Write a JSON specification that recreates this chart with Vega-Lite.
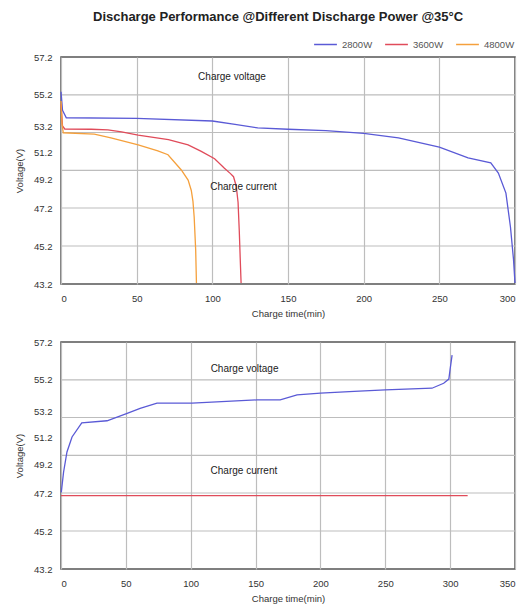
{
  "$schema": "https://vega.github.io/schema/vega-lite/v6.json",
  "padding": {"left": 13, "top": 11, "right": 2, "bottom": 0},
  "title": {"text": "Discharge Performance @Different Discharge Power @35°C", "anchor": "middle", "font": "Liberation Sans", "fontSize": 13, "fontWeight": "bold", "color": "#222", "dx": 12, "offset": 8},
  "config": {
    "font": "Liberation Sans",
    "view": {"stroke": "#555", "strokeWidth": 1.5},
    "axis": {"labelFont": "Liberation Sans", "labelFontSize": 9.5, "labelColor": "#333", "titleFont": "Liberation Sans", "titleFontSize": 9.5, "titleFontWeight": "normal", "titleColor": "#333", "gridColor": "#bdbdbd", "gridWidth": 1.2, "ticks": false, "domain": false, "labelOverlap": false, "tickCount": 30}
  },
  "spacing": 17,
  "vconcat": [
    {
      "width": 454,
      "height": 227,
      "layer": [
        {
          "data": {"values": [
            {"g": 55.2, "t": 0}, {"g": 55.2, "t": 300},
            {"g": 52.7, "t": 0}, {"g": 52.7, "t": 300},
            {"g": 49.84, "t": 0}, {"g": 49.84, "t": 300},
            {"g": 47.2, "t": 0}, {"g": 47.2, "t": 300},
            {"g": 45.2, "t": 0}, {"g": 45.2, "t": 300}
          ]},
          "mark": {"type": "line", "color": "#bdbdbd", "strokeWidth": 1.2},
          "encoding": {
            "x": {"field": "t", "type": "quantitative", "scale": {"domain": [0, 300], "nice": false},
                  "axis": {"values": [0, 50, 100, 150, 200, 250, 300], "title": "Charge time(min)", "grid": true, "labelPadding": 9, "titlePadding": 6}},
            "y": {"field": "g", "type": "quantitative",
                  "scale": {"domain": [43.2, 45.2, 47.2, 49.2, 51.2, 53.2, 55.2, 57.2], "range": [227, 189, 151, 122, 95, 69, 37.8, 0], "nice": false, "zero": false},
                  "axis": {"values": [43.2, 45.2, 47.2, 49.2, 51.2, 53.2, 55.2, 57.2], "format": ".1f", "grid": false, "orient": "left", "title": "Voltage(V)", "labelPadding": 9, "titlePadding": 9}},
            "detail": {"field": "g", "type": "nominal"}
          }
        },
        {
          "data": {"values": [
            {"series": "2800W", "t": 0, "v": 55.36}, {"series": "2800W", "t": 1, "v": 54.2}, {"series": "2800W", "t": 3.5, "v": 53.73},
            {"series": "2800W", "t": 50, "v": 53.69}, {"series": "2800W", "t": 100, "v": 53.52}, {"series": "2800W", "t": 115, "v": 53.3},
            {"series": "2800W", "t": 130, "v": 53.05}, {"series": "2800W", "t": 150, "v": 52.95}, {"series": "2800W", "t": 175, "v": 52.85},
            {"series": "2800W", "t": 200, "v": 52.64}, {"series": "2800W", "t": 223, "v": 52.28}, {"series": "2800W", "t": 250, "v": 51.58},
            {"series": "2800W", "t": 269, "v": 50.76}, {"series": "2800W", "t": 284, "v": 50.39}, {"series": "2800W", "t": 289, "v": 49.64},
            {"series": "2800W", "t": 294, "v": 48.23}, {"series": "2800W", "t": 297, "v": 46.2}, {"series": "2800W", "t": 299, "v": 44.5},
            {"series": "2800W", "t": 300, "v": 43.25},
            {"series": "3600W", "t": 0, "v": 54.6}, {"series": "3600W", "t": 1, "v": 53.2}, {"series": "3600W", "t": 2.5, "v": 52.97},
            {"series": "3600W", "t": 20, "v": 52.95}, {"series": "3600W", "t": 31, "v": 52.9}, {"series": "3600W", "t": 40, "v": 52.75},
            {"series": "3600W", "t": 51, "v": 52.5}, {"series": "3600W", "t": 61, "v": 52.33}, {"series": "3600W", "t": 71, "v": 52.15},
            {"series": "3600W", "t": 84, "v": 51.74}, {"series": "3600W", "t": 92.7, "v": 51.25}, {"series": "3600W", "t": 101.5, "v": 50.7},
            {"series": "3600W", "t": 108, "v": 50.0}, {"series": "3600W", "t": 112, "v": 49.6}, {"series": "3600W", "t": 114, "v": 49.37},
            {"series": "3600W", "t": 115.8, "v": 48.7}, {"series": "3600W", "t": 117, "v": 47.6}, {"series": "3600W", "t": 117.8, "v": 46.0},
            {"series": "3600W", "t": 118.4, "v": 44.6}, {"series": "3600W", "t": 119, "v": 43.25},
            {"series": "4800W", "t": 0, "v": 54.8}, {"series": "4800W", "t": 0.7, "v": 53.3}, {"series": "4800W", "t": 1.5, "v": 52.68},
            {"series": "4800W", "t": 22, "v": 52.58}, {"series": "4800W", "t": 33, "v": 52.28}, {"series": "4800W", "t": 51, "v": 51.74},
            {"series": "4800W", "t": 64, "v": 51.28}, {"series": "4800W", "t": 70.7, "v": 51.0}, {"series": "4800W", "t": 79.5, "v": 49.87},
            {"series": "4800W", "t": 84, "v": 49.13}, {"series": "4800W", "t": 86.1, "v": 48.41}, {"series": "4800W", "t": 87.2, "v": 47.66},
            {"series": "4800W", "t": 88, "v": 46.73}, {"series": "4800W", "t": 89, "v": 44.99}, {"series": "4800W", "t": 89.5, "v": 43.25}
          ]},
          "mark": {"type": "line", "strokeWidth": 1.3},
          "encoding": {
            "x": {"field": "t", "type": "quantitative"},
            "y": {"field": "v", "type": "quantitative"},
            "color": {"field": "series", "type": "nominal",
                      "scale": {"domain": ["2800W", "3600W", "4800W"], "range": ["#5a5ad6", "#e04b5a", "#f5a03c"]},
                      "legend": {"orient": "none", "legendX": 252, "legendY": -25, "direction": "horizontal", "title": null, "symbolType": "stroke", "symbolSize": 520, "symbolStrokeWidth": 1.5, "labelFont": "Liberation Sans", "labelFontSize": 9.5, "labelColor": "#555", "columnPadding": 9}}
          }
        },
        {
          "data": {"values": [
            {"label": "Charge voltage", "t": 113, "v": 56.13},
            {"label": "Charge current", "t": 120.6, "v": 48.67}
          ]},
          "mark": {"type": "text", "font": "Liberation Sans", "fontSize": 10, "color": "#222"},
          "encoding": {
            "x": {"field": "t", "type": "quantitative"},
            "y": {"field": "v", "type": "quantitative"},
            "text": {"field": "label"}
          }
        }
      ]
    },
    {
      "width": 454,
      "height": 227,
      "layer": [
        {
          "data": {"values": [
            {"g": 55.2, "t": 0}, {"g": 55.2, "t": 350},
            {"g": 52.7, "t": 0}, {"g": 52.7, "t": 350},
            {"g": 49.84, "t": 0}, {"g": 49.84, "t": 350},
            {"g": 47.2, "t": 0}, {"g": 47.2, "t": 350},
            {"g": 45.2, "t": 0}, {"g": 45.2, "t": 350}
          ]},
          "mark": {"type": "line", "color": "#bdbdbd", "strokeWidth": 1.2},
          "encoding": {
            "x": {"field": "t", "type": "quantitative", "scale": {"domain": [0, 350], "nice": false},
                  "axis": {"values": [0, 50, 100, 150, 200, 250, 300, 350], "title": "Charge time(min)", "grid": true, "labelPadding": 9, "titlePadding": 6}},
            "y": {"field": "g", "type": "quantitative",
                  "scale": {"domain": [43.2, 45.2, 47.2, 49.2, 51.2, 53.2, 55.2, 57.2], "range": [227, 189, 151, 122, 95, 69, 37.8, 0], "nice": false, "zero": false},
                  "axis": {"values": [43.2, 45.2, 47.2, 49.2, 51.2, 53.2, 55.2, 57.2], "format": ".1f", "grid": false, "orient": "left", "title": "Voltage(V)", "labelPadding": 9, "titlePadding": 9}},
            "detail": {"field": "g", "type": "nominal"}
          }
        },
        {
          "data": {"values": [
            {"t": 0.2, "v": 47.24}, {"t": 2, "v": 48.65}, {"t": 4.6, "v": 50.09}, {"t": 8.5, "v": 51.2}, {"t": 16, "v": 52.28},
            {"t": 35.5, "v": 52.45}, {"t": 51, "v": 53.02}, {"t": 61, "v": 53.37}, {"t": 74, "v": 53.71}, {"t": 101, "v": 53.71},
            {"t": 151, "v": 53.91}, {"t": 169, "v": 53.91}, {"t": 182, "v": 54.24}, {"t": 200, "v": 54.35}, {"t": 226, "v": 54.46},
            {"t": 250, "v": 54.55}, {"t": 286, "v": 54.66}, {"t": 295, "v": 54.98}, {"t": 299, "v": 55.24}, {"t": 300, "v": 55.77},
            {"t": 301.5, "v": 56.51}
          ]},
          "mark": {"type": "line", "strokeWidth": 1.3, "color": "#5a5ad6"},
          "encoding": {
            "x": {"field": "t", "type": "quantitative"},
            "y": {"field": "v", "type": "quantitative"}
          }
        },
        {
          "data": {"values": [{"t": 0, "v": 47.06}, {"t": 313.5, "v": 47.06}]},
          "mark": {"type": "line", "strokeWidth": 1.3, "color": "#e04b5a"},
          "encoding": {
            "x": {"field": "t", "type": "quantitative"},
            "y": {"field": "v", "type": "quantitative"}
          }
        },
        {
          "data": {"values": [
            {"label": "Charge voltage", "t": 141.5, "v": 55.77},
            {"label": "Charge current", "t": 141, "v": 48.74}
          ]},
          "mark": {"type": "text", "font": "Liberation Sans", "fontSize": 10, "color": "#222"},
          "encoding": {
            "x": {"field": "t", "type": "quantitative"},
            "y": {"field": "v", "type": "quantitative"},
            "text": {"field": "label"}
          }
        }
      ]
    }
  ]
}
